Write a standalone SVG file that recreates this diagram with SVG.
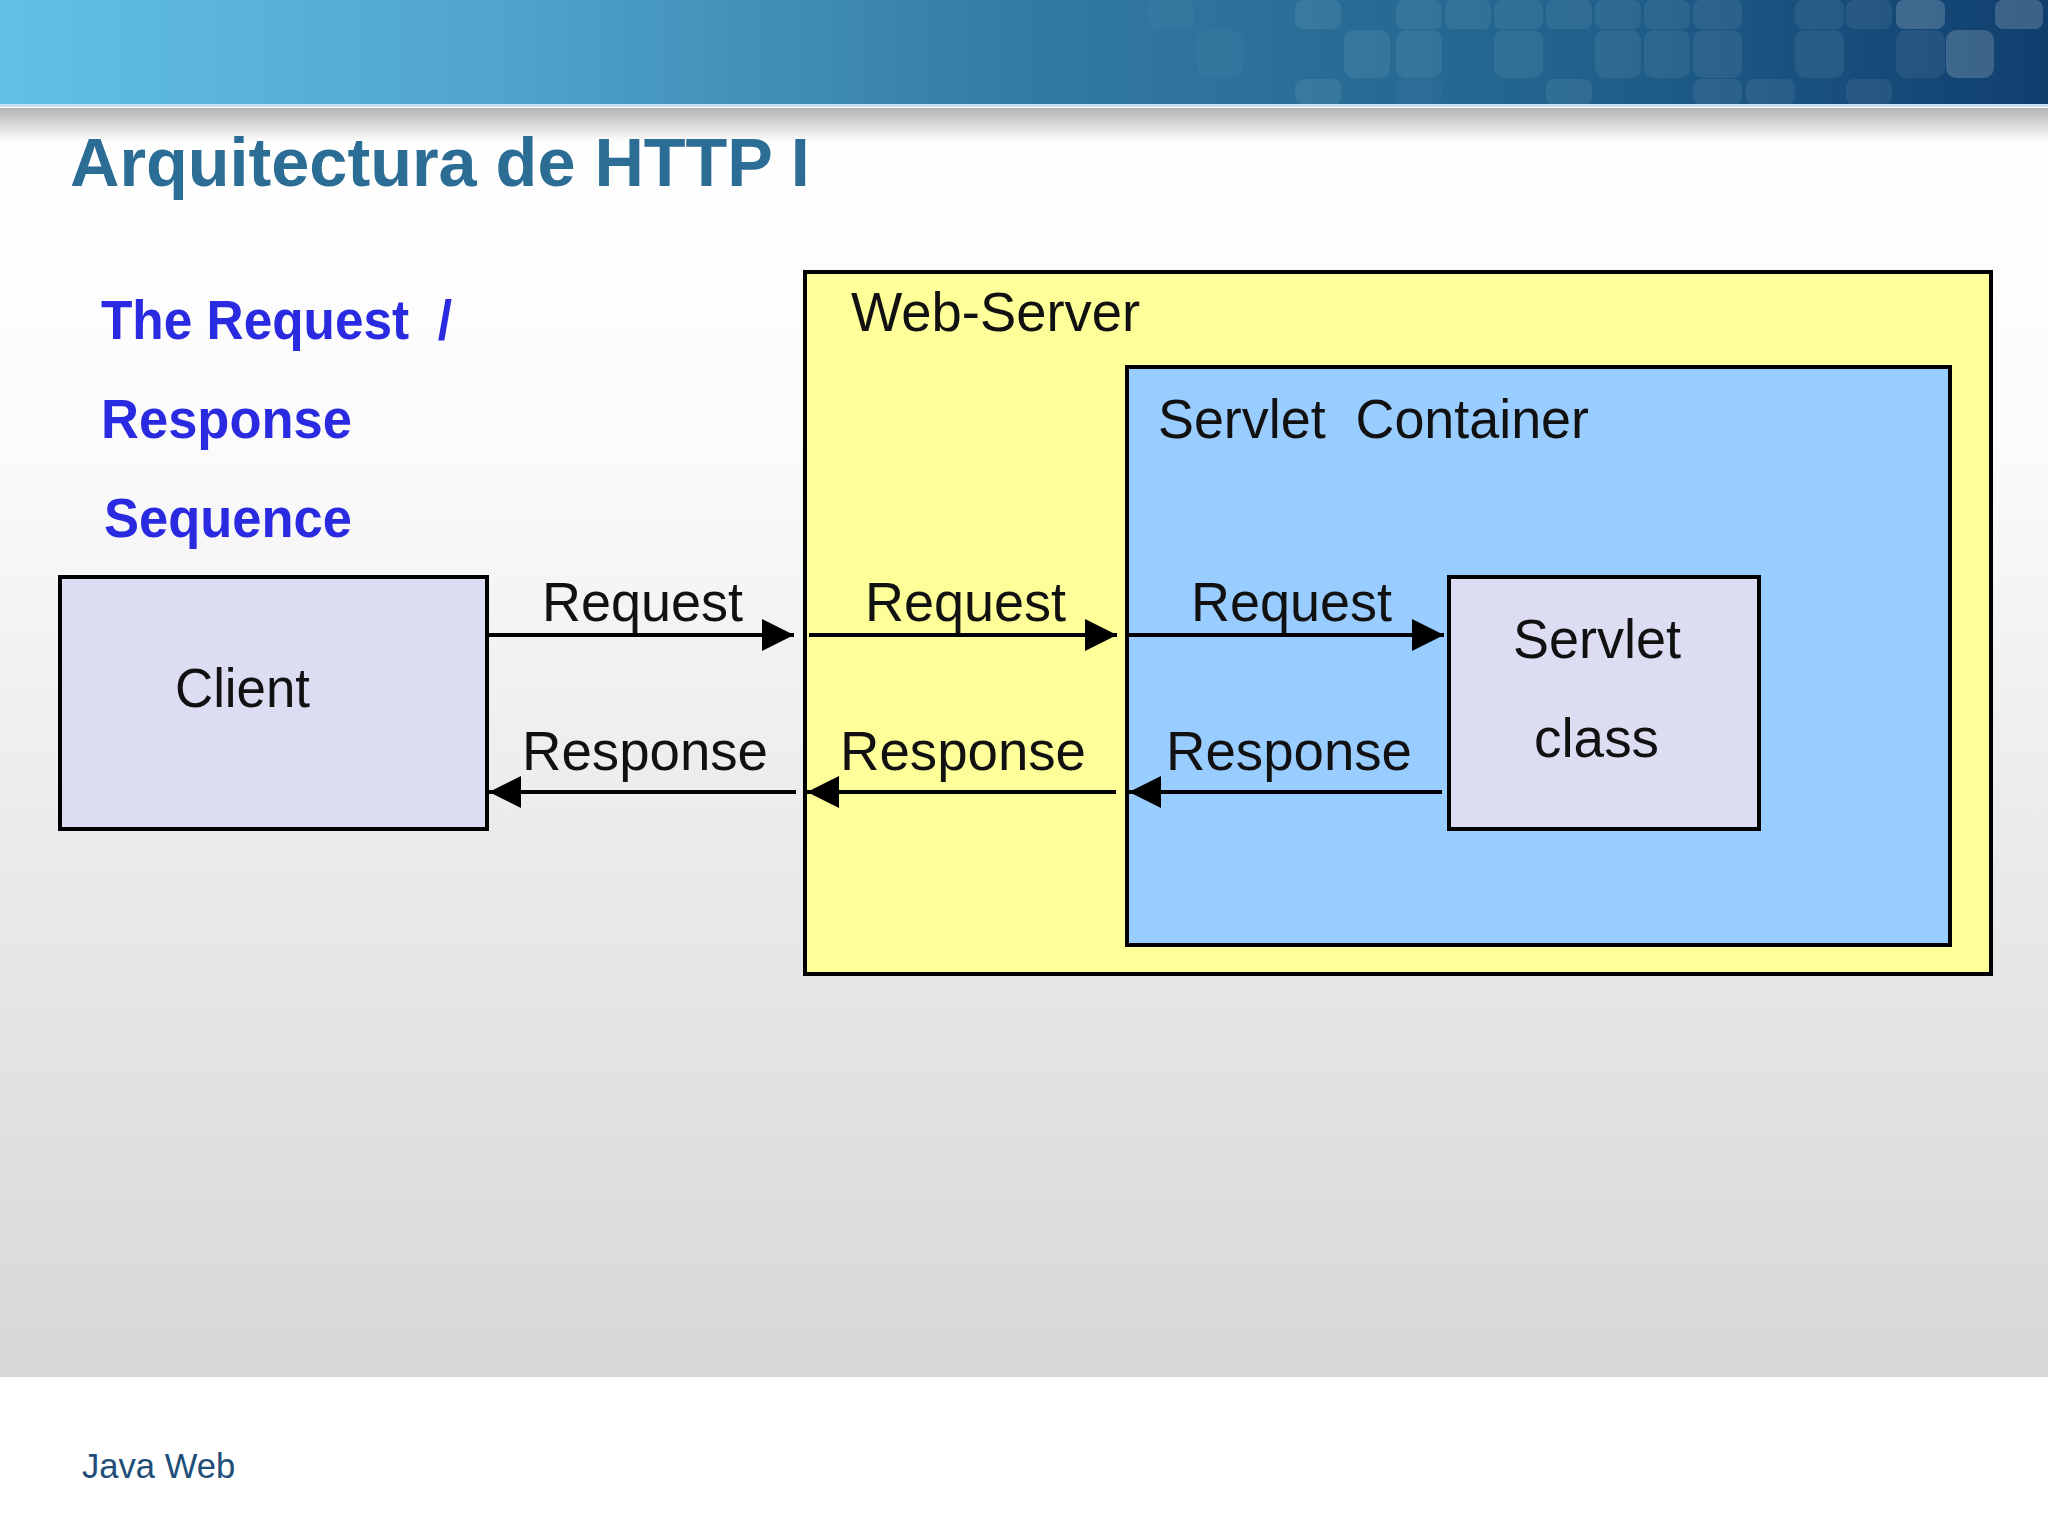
<svg xmlns="http://www.w3.org/2000/svg" width="2048" height="1536" viewBox="0 0 2048 1536">
<defs>
<linearGradient id="bar" x1="0" x2="1" y1="0" y2="0"><stop offset="0" stop-color="#62c0e6"/><stop offset="0.25" stop-color="#4fa3cc"/><stop offset="0.5" stop-color="#337ba3"/><stop offset="0.75" stop-color="#22648f"/><stop offset="1" stop-color="#103f6e"/></linearGradient>
<linearGradient id="shadow" x1="0" x2="0" y1="0" y2="1"><stop offset="0" stop-color="#b4b4b2"/><stop offset="1" stop-color="#ffffff"/></linearGradient>
<linearGradient id="bg" x1="0" x2="0" y1="0" y2="1"><stop offset="0" stop-color="#ffffff"/><stop offset="0.25" stop-color="#fbfbfc"/><stop offset="0.5" stop-color="#eeeef0"/><stop offset="1" stop-color="#d7d7d9"/></linearGradient>
<marker id="ah" markerUnits="userSpaceOnUse" markerWidth="34" markerHeight="32" refX="32" refY="16" orient="auto-start-reverse"><path d="M0 0L32 16L0 32Z" fill="#000"/></marker>
</defs>
<style>
.t{font-family:"Liberation Sans",Arial,sans-serif;font-size:56px;fill:#111;white-space:pre}
.h{font-family:"Liberation Sans",Arial,sans-serif;font-size:56px;font-weight:bold;fill:#2a2ae0;white-space:pre}
.b{stroke:#000;stroke-width:4}
.c{stroke:#000;stroke-width:4;fill:none}
.p{fill:#fff;opacity:.07}
.q{fill:#fff;opacity:.03}
.r{fill:#fff;opacity:.18}
</style>
<rect width="2048" height="1536" fill="#fff"/>
<rect y="130" width="2048" height="1247" fill="url(#bg)"/>
<rect y="108" width="2048" height="34" fill="url(#shadow)"/>
<rect width="2048" height="105" fill="url(#bar)"/>
<g class="tiles">
<rect class="q" x="1148" y="0" width="46" height="29" rx="8"/><rect class="p" x="1295" y="0" width="46" height="29" rx="8"/><rect class="p" x="1396" y="0" width="46" height="29" rx="8"/><rect class="p" x="1445" y="0" width="46" height="29" rx="8"/><rect class="p" x="1494" y="0" width="49" height="29" rx="8"/><rect class="p" x="1546" y="0" width="46" height="29" rx="8"/><rect class="p" x="1595" y="0" width="46" height="29" rx="8"/><rect class="p" x="1644" y="0" width="46" height="29" rx="8"/><rect class="p" x="1693" y="0" width="49" height="29" rx="8"/><rect class="p" x="1795" y="0" width="49" height="29" rx="8"/><rect class="p" x="1846" y="0" width="46" height="29" rx="8"/><rect class="r" x="1896" y="0" width="49" height="29" rx="8"/><rect class="r" x="1995" y="0" width="48" height="29" rx="8"/>
<rect class="q" x="1197" y="30" width="46" height="48" rx="10"/><rect class="p" x="1344" y="30" width="46" height="48" rx="10"/><rect class="p" x="1396" y="30" width="46" height="48" rx="10"/><rect class="p" x="1494" y="30" width="49" height="48" rx="10"/><rect class="p" x="1595" y="30" width="46" height="48" rx="10"/><rect class="p" x="1644" y="30" width="46" height="48" rx="10"/><rect class="p" x="1693" y="30" width="49" height="48" rx="10"/><rect class="p" x="1795" y="30" width="49" height="48" rx="10"/><rect class="p" x="1896" y="30" width="49" height="48" rx="10"/><rect class="r" x="1946" y="30" width="48" height="48" rx="10"/>
<rect class="p" x="1295" y="79" width="46" height="26" rx="8"/><rect class="q" x="1396" y="79" width="46" height="26" rx="8"/><rect class="p" x="1546" y="79" width="46" height="26" rx="8"/><rect class="p" x="1693" y="79" width="49" height="26" rx="8"/><rect class="p" x="1746" y="79" width="49" height="26" rx="8"/><rect class="p" x="1846" y="79" width="46" height="26" rx="8"/>
</g>
<rect y="104" width="2048" height="3" fill="#c4dff0"/>
<text x="70" y="186" font-family="'Liberation Sans',Arial,sans-serif" font-size="68.4" font-weight="bold" fill="#2c6d96">Arquitectura de HTTP I</text>
<text x="82" y="1478" font-family="'Liberation Sans',Arial,sans-serif" font-size="34.6" fill="#1f4e79">Java Web</text>
<g id="caption">
<text class="h" x="101" y="339" textLength="351" lengthAdjust="spacingAndGlyphs">The Request  /</text>
<text class="h" x="101" y="438" textLength="251" lengthAdjust="spacingAndGlyphs">Response</text>
<text class="h" x="104" y="537" textLength="248" lengthAdjust="spacingAndGlyphs">Sequence</text>
</g>
<g id="client"><rect class="b" x="60" y="577" width="427" height="252" fill="#dcdcf2"/><text class="t" x="175" y="707" textLength="135" lengthAdjust="spacingAndGlyphs">Client</text></g>
<g id="web-server"><rect class="b" x="805" y="272" width="1186" height="702" fill="#ffff99"/><text class="t" x="851" y="331" textLength="289" lengthAdjust="spacingAndGlyphs">Web-Server</text></g>
<g id="servlet-container"><rect class="b" x="1127" y="367" width="823" height="578" fill="#99ccff"/><text class="t" x="1158" y="438" textLength="431" lengthAdjust="spacingAndGlyphs">Servlet  Container</text></g>
<g id="servlet-class"><rect class="b" x="1449" y="577" width="310" height="252" fill="#dcdcf2"/><text class="t" x="1513" y="658" textLength="168" lengthAdjust="spacingAndGlyphs">Servlet</text><text class="t" x="1534" y="757" textLength="125" lengthAdjust="spacingAndGlyphs">class</text></g>
<g id="connectors">
<line class="c" x1="487" y1="635" x2="794" y2="635" marker-end="url(#ah)"/>
<line class="c" x1="809" y1="635" x2="1117" y2="635" marker-end="url(#ah)"/>
<line class="c" x1="1129" y1="635" x2="1444" y2="635" marker-end="url(#ah)"/>
<line class="c" x1="796" y1="792" x2="489" y2="792" marker-end="url(#ah)"/>
<line class="c" x1="1116" y1="792" x2="807" y2="792" marker-end="url(#ah)"/>
<line class="c" x1="1442" y1="792" x2="1129" y2="792" marker-end="url(#ah)"/>
</g>
<g id="labels">
<text class="t" x="542" y="621" textLength="201" lengthAdjust="spacingAndGlyphs">Request</text><text class="t" x="865" y="621" textLength="201" lengthAdjust="spacingAndGlyphs">Request</text><text class="t" x="1191" y="621" textLength="201" lengthAdjust="spacingAndGlyphs">Request</text>
<text class="t" x="522" y="770" textLength="246" lengthAdjust="spacingAndGlyphs">Response</text><text class="t" x="840" y="770" textLength="246" lengthAdjust="spacingAndGlyphs">Response</text><text class="t" x="1166" y="770" textLength="246" lengthAdjust="spacingAndGlyphs">Response</text>
</g>
</svg>
